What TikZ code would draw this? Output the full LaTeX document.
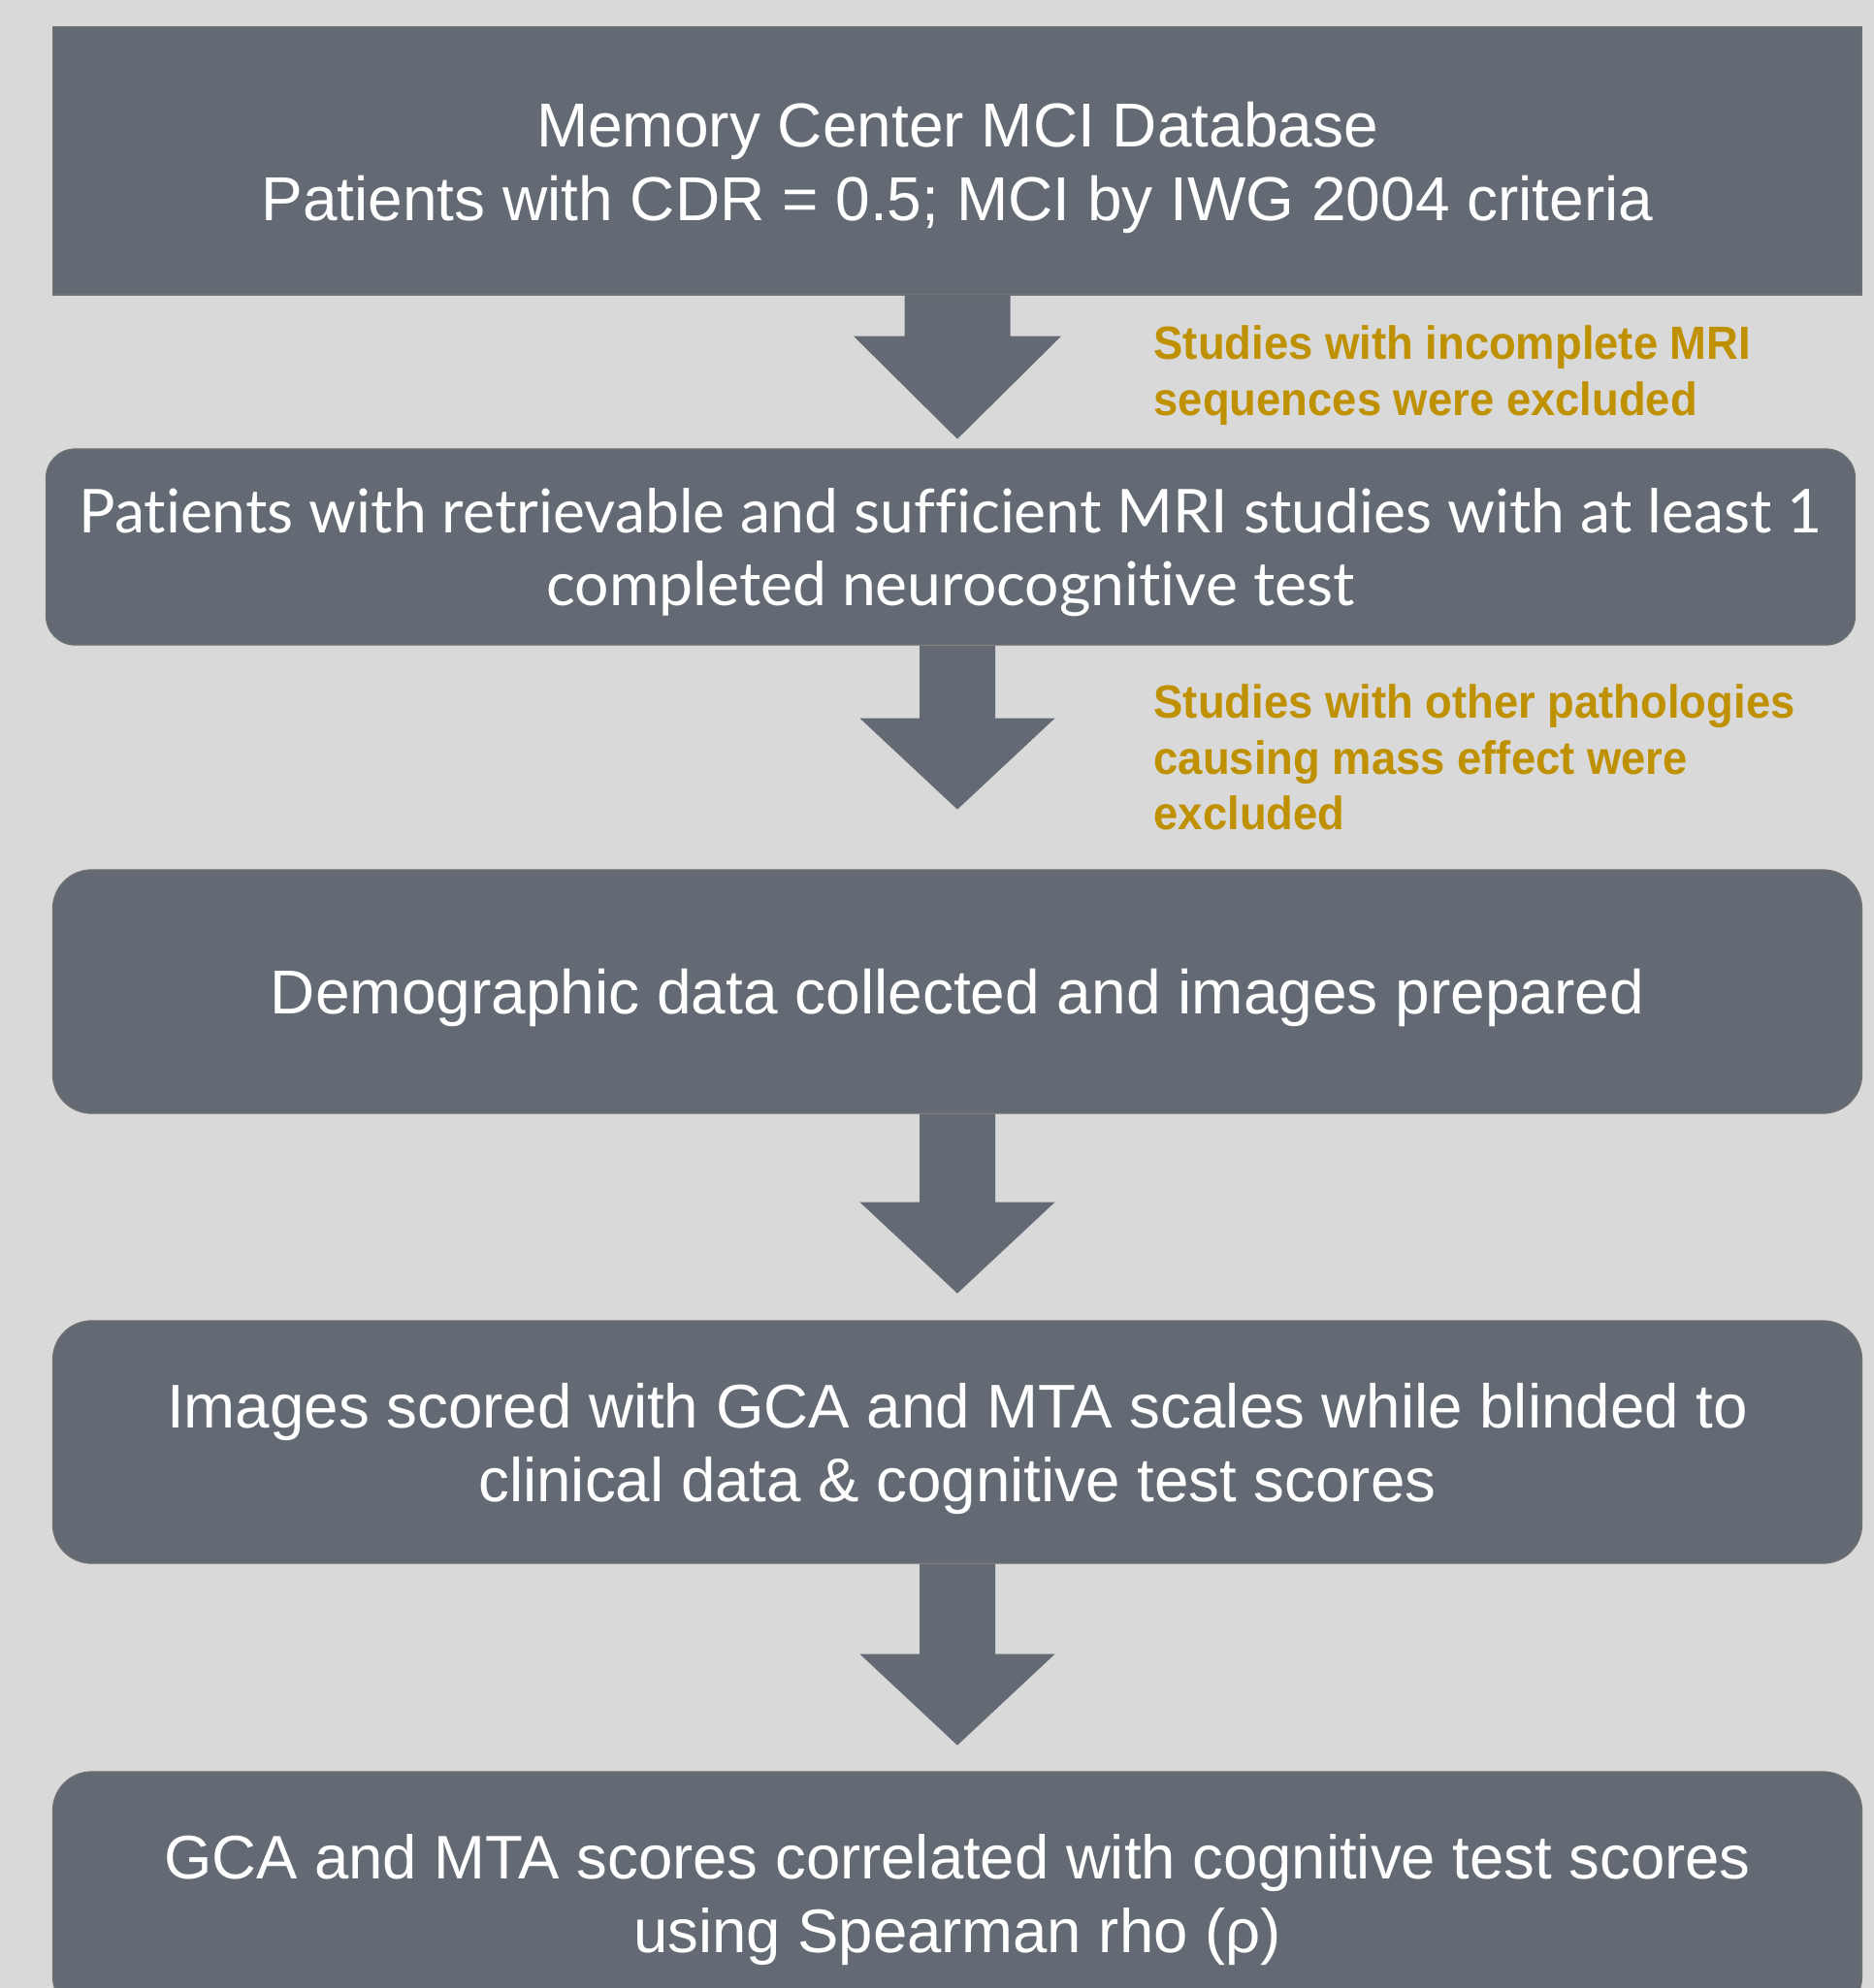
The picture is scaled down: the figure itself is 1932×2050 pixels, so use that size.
\documentclass[tikz,border=0pt]{standalone}
\usepackage{fontspec}
\newfontfamily\arialfont{Liberation Sans}
\newfontfamily\latofont[Ligatures=NoCommon]{Lato}
\newfontfamily\notefont[FakeStretch=0.945]{Liberation Sans}

\definecolor{bggray}{RGB}{217,217,217}
\definecolor{boxgray}{RGB}{99,106,115}
\definecolor{edgegray}{RGB}{112,112,112}
\definecolor{notegold}{RGB}{191,144,0}

\tikzset{
  stepbox/.style={draw=edgegray, line width=0.012cm, fill=boxgray, text=white,
    minimum width=18.64cm, align=center, inner sep=0pt, text depth=0pt,
    font=\arialfont\fontsize{18.2}{21.6}\selectfont},
  roundbox/.style={stepbox, rounded corners=0.40cm},
  note/.style={anchor=north west, align=left, inner sep=0pt, text=notegold,
    font=\notefont\bfseries\fontsize{13.66}{16.36}\selectfont},
  blockarrow/.style={fill=boxgray}
}

\begin{document}
\begin{tikzpicture}[x=0.01cm, y=-0.01cm]
    % Page and background
    \useasboundingbox (0,0) rectangle (1932,2050);
    \clip (0,0) rectangle (1932,2050);
    \fill[bggray] (0,0) rectangle (1932,2050);

    % Steps of the selection
    \node[stepbox, minimum height=2.76cm] (db) at (987,166)
        {Memory Center MCI Database\\Patients with CDR = 0.5; MCI by IWG 2004 criteria};
    \node[roundbox, rounded corners=0.30cm, minimum height=2.02cm,
        font=\latofont\fontsize{17.75}{21.6}\selectfont] (mri) at (980,564)
        {Patients with retrievable and sufficient MRI studies with at least 1\\completed neurocognitive test};
    \node[roundbox, minimum height=2.51cm] (prep) at (987,1022.5)
        {Demographic data collected and images prepared};
    \node[roundbox, minimum height=2.50cm, font=\arialfont\fontsize{18.1}{21.6}\selectfont] (score) at (987,1487)
        {Images scored with GCA and MTA scales while blinded to\\clinical data \& cognitive test scores};
    \node[roundbox, minimum height=2.51cm, font=\arialfont\fontsize{18.05}{21.6}\selectfont] (corr) at (987,1952.5)
        {GCA and MTA scores correlated with cognitive test scores\\using Spearman rho (ρ)};

    % Exclusions
    \node[note] (excl1) at (1189,335) {Studies with incomplete MRI\\sequences were excluded};
    \node[note] (excl2) at (1189,705) {Studies with other pathologies\\causing mass effect were\\excluded};

    % Block arrows between the steps
    \fill[blockarrow] (db.south) ++(-54.5,0) -- ++(0,42) -- ++(-52.5,0) -- ++(107,106)
        -- ++(107,-106) -- ++(-52.5,0) -- ++(0,-42) -- cycle;
    \foreach \from/\shaft in {mri/75, prep/91, score/93}
        \fill[blockarrow] (db.south |- \from.south) ++(-39,0) -- ++(0,\shaft) -- ++(-61.5,0)
            -- ++(100.5,94) -- ++(100.5,-94) -- ++(-61.5,0) -- ++(0,-\shaft) -- cycle;
\end{tikzpicture}
\end{document}
